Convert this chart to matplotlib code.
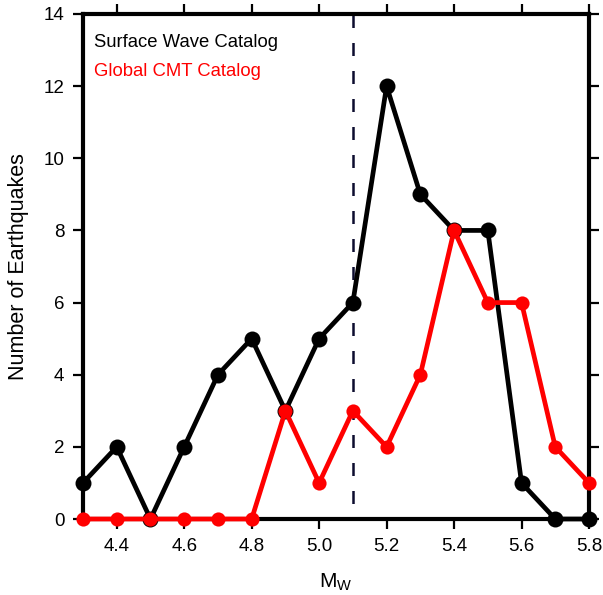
import matplotlib
matplotlib.use("Agg")
import matplotlib.pyplot as plt

plt.rcParams['font.family'] = ['Liberation Sans', 'DejaVu Sans']

mw = [4.3, 4.4, 4.5, 4.6, 4.7, 4.8, 4.9, 5.0, 5.1, 5.2, 5.3, 5.4, 5.5, 5.6, 5.7, 5.8]
surface_wave = [1, 2, 0, 2, 4, 5, 3, 5, 6, 12, 9, 8, 8, 1, 0, 0]
global_cmt = [0, 0, 0, 0, 0, 0, 3, 1, 3, 2, 4, 8, 6, 6, 2, 1]
threshold = 5.1
xticks = [4.4, 4.6, 4.8, 5.0, 5.2, 5.4, 5.6, 5.8]
yticks = [0, 2, 4, 6, 8, 10, 12, 14]

fig = plt.figure(figsize=(6.03, 5.95), dpi=100)
ax = fig.add_axes([83/603, 1-519/595, (589-83)/603, (519-14)/595])

ax.axvline(threshold, color='#0c0c2e', lw=1.8, ls=(5, (5.2, 6.0)), zorder=1)
ax.plot(mw, surface_wave, color='black', lw=3.4, marker='o', ms=11.5,
        mfc='black', mec='black', mew=0, clip_on=False, zorder=3)
ax.plot(mw, global_cmt, color='red', lw=3.4, marker='o', ms=10.2, mec='red',
        mfc='red', mew=0, clip_on=False, zorder=4)

ax.set_xlim(4.3, 5.8)
ax.set_ylim(0, 14)
ax.set_xticks(xticks)
ax.set_xticklabels([f"{v:.1f}" for v in xticks])
ax.set_yticks(yticks)
ax.tick_params(direction='out', length=7.5, width=1.6, labelsize=13.5,
               top=True, right=True, pad=6, color='black')
for s in ax.spines.values():
    s.set_linewidth(3)
    s.set_zorder(2)

ax.set_xlabel('M$_\\mathregular{W}$', fontsize=15, labelpad=12)
ax.set_ylabel('Number of Earthquakes', fontsize=15.5, labelpad=10)

ax.text(0.022, 0.943, 'Surface Wave Catalog', transform=ax.transAxes,
        fontsize=13.3, color='black', va='center', ha='left')
ax.text(0.022, 0.886, 'Global CMT Catalog', transform=ax.transAxes,
        fontsize=13.3, color='red', va='center', ha='left')

fig.savefig('out.png', dpi=100)
